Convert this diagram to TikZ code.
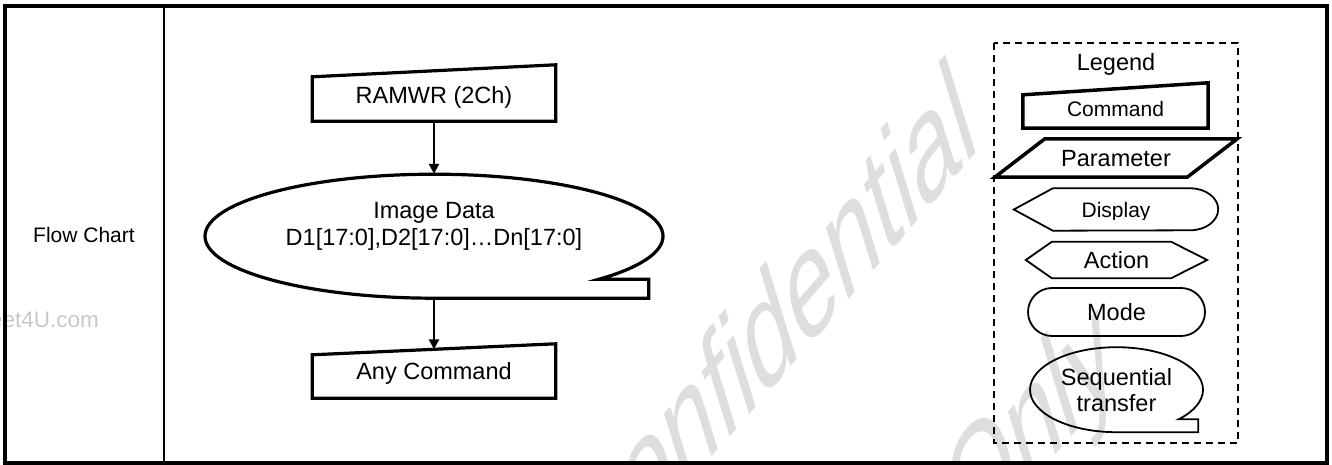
\documentclass[tikz,border=0pt]{standalone}
\usepackage{fontspec}
\setmainfont{Liberation Sans}
\usetikzlibrary{arrows.meta,shapes.geometric,calc}
\definecolor{wmcolor0001}{RGB}{222,222,222}
\definecolor{wmcolor0002}{RGB}{200,200,200}

\begin{document}
\begin{tikzpicture}[yscale=-1
,pstyle0/.style={color=black,line width=4pt}
,pstyle1/.style={color=black,line width=2.6pt}
,pstyle2/.style={color=black,line width=3.2pt}
,pstyle3/.style={color=black,line width=2.4pt,-{Triangle[length=10pt,width=10pt]}}
,pstyle4/.style={color=black,line width=1.8pt,dash pattern=on 7pt off 5pt}
,pstyle5/.style={color=black,line width=3.5pt}
,pstyle6/.style={color=black,line width=1.8pt}
,tstyle0/.style={inner sep=0,font=\fontsize{23.5pt}{27pt}\selectfont,text height=17pt,text depth=0pt}
,tstyle1/.style={inner sep=0,font=\fontsize{21pt}{25pt}\selectfont,text height=15pt,text depth=0pt}
,wstyle0/.style={inner sep=0,font=\fontsize{100pt}{120pt}\selectfont,color=wmcolor0001,cm={0.747,0.860,-0.419,1.355,(0,0)}}
]
\useasboundingbox (0pt,0pt) rectangle (1332pt,465pt);
% watermark
\node[wstyle0,anchor=base east] (wm0) at (981pt,147.5pt) {Confidential};
\node[wstyle0,anchor=base west] (wm1) at (967pt,557pt) {Only};
\node[inner sep=0,font=\fontsize{22.5pt}{27pt}\selectfont,color=wmcolor0002,anchor=base east] (wm2) at (99pt,327pt) {DataSheet4U.com};
% table
\draw[pstyle0] (4.7pt,5.7pt) rectangle (1326.5pt,462.5pt);
\draw[pstyle1] (163.8pt,5.7pt) -- (163.8pt,462.5pt);
\node[tstyle1] (title) at (84pt,234.5pt) {Flow Chart};
% flow chart
\node[tstyle0,minimum width=243pt,minimum height=52pt] (ramwr) at (434pt,95pt) {RAMWR (2Ch)};
\draw[pstyle2] (ramwr.south west) -- (ramwr.south east) -- ($(ramwr.north east)+(0pt,-4pt)$) -- ($(ramwr.north west)+(0pt,8pt)$) -- cycle;
\node[tstyle0,ellipse,minimum width=458pt,minimum height=124pt,align=center,text height=44pt,text depth=26pt] (img) at (434pt,236pt) {Image Data\\D1[17:0],D2[17:0]…Dn[17:0]};
\draw[pstyle2] (img.south) arc[start angle=90,end angle=404,x radius=229pt,y radius=62pt] -- ++(50pt,0pt) |- (img.south) -- cycle;
\node[tstyle0,minimum width=243pt,minimum height=54pt] (anycmd) at (434pt,371pt) {Any Command};
\draw[pstyle2] (anycmd.south west) -- (anycmd.south east) -- (anycmd.north east) -- ($(anycmd.north west)+(0pt,11pt)$) -- cycle;
\draw[pstyle3] (ramwr.south) -- (img.north);
\draw[pstyle3] (img.south) -- ($(anycmd.north)+(0pt,5.5pt)$);
% legend
\draw[pstyle4] (994pt,43pt) rectangle (1238pt,443pt);
\node[tstyle0] (legend) at (1116pt,62.5pt) {Legend};
\node[tstyle1,minimum width=185pt,minimum height=38pt] (lcmd) at (1115.5pt,109pt) {Command};
\draw[pstyle5] (lcmd.south west) -- (lcmd.south east) -- ($(lcmd.north east)+(0pt,-7pt)$) -- ($(lcmd.north west)+(0pt,5pt)$) -- cycle;
\node[tstyle0,minimum width=242pt,minimum height=38pt] (lpar) at (1116pt,158pt) {Parameter};
\draw[pstyle5] (lpar.south west) -- ($(lpar.south east)+(-50pt,0pt)$) -- (lpar.north east) -- ($(lpar.north west)+(50pt,0pt)$) -- cycle;
\begin{scope}
\clip (1000pt,180pt) rectangle (1230pt,219.5pt);
\node[tstyle1,minimum width=204pt,minimum height=42pt] (ldisp) at (1116pt,209.5pt) {Display};
\end{scope}
\draw[pstyle6] (ldisp.west) -- ($(ldisp.north west)+(39pt,0pt)$) -- ($(ldisp.north east)+(-28pt,0pt)$) arc[start angle=-90,end angle=90,x radius=28pt,y radius=21pt] -- ($(ldisp.south west)+(39pt,0pt)$) -- cycle;
\node[tstyle0,minimum width=181pt,minimum height=36pt] (lact) at (1116.5pt,260pt) {Action};
\draw[pstyle6] (lact.west) -- ($(lact.north west)+(26pt,0pt)$) -- ($(lact.north east)+(-36pt,0pt)$) -- (lact.east) -- ($(lact.south east)+(-36pt,0pt)$) -- ($(lact.south west)+(26pt,0pt)$) -- cycle;
\node[tstyle0,pstyle6,draw,rounded corners=24pt,minimum width=177pt,minimum height=48pt] (lmode) at (1116.5pt,312pt) {Mode};
\node[tstyle0,ellipse,font=\fontsize{23.5pt}{26pt}\selectfont,minimum width=173pt,minimum height=85pt,align=center,text height=43pt,text depth=0pt] (lseq) at (1116.5pt,389.5pt) {Sequential\\transfer};
\draw[pstyle6] (lseq.south) arc[start angle=90,end angle=404,x radius=86.5pt,y radius=42.5pt] -- ++(19.5pt,0pt) |- (lseq.south) -- cycle;
\end{tikzpicture}
\end{document}
